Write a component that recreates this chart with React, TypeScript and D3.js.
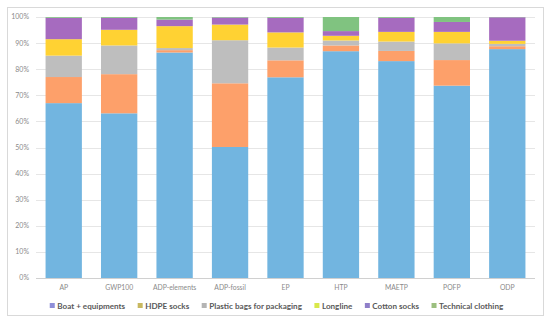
import React, { useEffect, useRef } from 'react';
import * as d3 from 'd3';

// impact categories
const categories = ['AP', 'GWP100', 'ADP-elements', 'ADP-fossil', 'EP', 'HTP', 'MAETP', 'POFP', 'ODP'];

// share of each contributor (%) per category
const boat = [67.0, 63.1, 86.4, 50.2, 76.9, 86.9, 83.1, 73.7, 87.7];
const hdpeSocks = [10.0, 15.0, 0.9, 24.4, 6.5, 2.2, 3.9, 9.8, 1.1];
const plasticBags = [8.2, 11.0, 0.8, 16.5, 4.9, 1.9, 3.6, 6.4, 0.9];
const longline = [6.3, 6.0, 8.4, 6.0, 5.8, 1.8, 3.7, 4.4, 1.2];
const cottonSocks = [8.2, 4.6, 2.5, 2.7, 5.6, 1.8, 5.4, 3.8, 9.0];
const technicalClothing = [0.3, 0.3, 1.0, 0.2, 0.3, 5.4, 0.3, 1.9, 0.1];

const seriesNames = ['Boat + equipments', 'HDPE socks', 'Plastic bags for packaging', 'Longline', 'Cotton socks', 'Technical clothing'];
const seriesValues = [boat, hdpeSocks, plasticBags, longline, cottonSocks, technicalClothing];

const yTicks = [0, 10, 20, 30, 40, 50, 60, 70, 80, 90, 100];

const barColors = ['#72b5e0', '#fda06a', '#bebebe', '#ffd233', '#a66bbf', '#80c380'];
const legendColors = ['#8e8ed9', '#c8b860', '#b4b4b4', '#d9e84a', '#8f7fc9', '#9cbf7f'];

export default function App() {
  const ref = useRef<SVGSVGElement>(null);

  useEffect(() => {
    const width = 550;
    const height = 326;
    const margin = { top: 17, right: 15, bottom: 48, left: 36 };

    const svg = d3.select(ref.current);
    svg.selectAll('*').remove();
    svg.attr('width', width).attr('height', height);

    // chart frame
    svg.append('rect')
      .attr('x', 7.5).attr('y', 7.5)
      .attr('width', 536).attr('height', 308)
      .attr('fill', '#fff')
      .attr('stroke', '#d9d9d9');

    const x = d3.scaleBand()
      .domain(categories)
      .range([margin.left, width - margin.right])
      .paddingInner(0.345)
      .paddingOuter(0.1725);

    const y = d3.scaleLinear()
      .domain([0, 100])
      .range([height - margin.bottom, margin.top]);

    // grid
    svg.append('g')
      .selectAll('line')
      .data(yTicks)
      .join('line')
      .attr('x1', margin.left)
      .attr('x2', width - margin.right)
      .attr('y1', d => Math.round(y(d)) + 0.5)
      .attr('y2', d => Math.round(y(d)) + 0.5)
      .attr('stroke', d => d === 0 ? '#d0d0d0' : '#e6e6e6')
      .attr('stroke-width', 1);

    svg.append('g')
      .selectAll('text')
      .data(yTicks)
      .join('text')
      .attr('x', 29)
      .attr('y', d => y(d))
      .attr('dy', '0.35em')
      .attr('text-anchor', 'end')
      .attr('font-family', 'Lato, sans-serif')
      .attr('font-size', 7)
      .attr('fill', '#8a8a8a')
      .text(d => d + '%');

    // stacked bars
    const rows = categories.map((c, i) => {
      const row: any = { cat: c };
      seriesNames.forEach((s, j) => { row[s] = seriesValues[j][i]; });
      return row;
    });
    const stacked = d3.stack().keys(seriesNames)(rows);

    svg.append('g')
      .selectAll('g')
      .data(stacked)
      .join('g')
      .attr('fill', (d, i) => barColors[i])
      .selectAll('rect')
      .data(d => d)
      .join('rect')
      .attr('x', d => x(d.data.cat))
      .attr('width', x.bandwidth())
      .attr('y', d => y(d[1]))
      .attr('height', d => y(d[0]) - y(d[1]));

    // category labels
    svg.append('g')
      .selectAll('text')
      .data(categories)
      .join('text')
      .attr('x', d => x(d) + x.bandwidth() / 2)
      .attr('y', 290)
      .attr('text-anchor', 'middle')
      .attr('font-family', 'Lato, sans-serif')
      .attr('font-size', 6.8)
      .attr('fill', '#8a8a8a')
      .text(d => d);

    // legend
    const legend = svg.append('g');
    const items = legend.selectAll('g')
      .data(seriesNames)
      .join('g');
    items.append('rect')
      .attr('y', 303)
      .attr('width', 5)
      .attr('height', 5)
      .attr('fill', (d, i) => legendColors[i]);
    items.append('text')
      .attr('x', 7.5)
      .attr('y', 309)
      .attr('font-family', 'Lato, sans-serif')
      .attr('font-weight', 'bold')
      .attr('font-size', 8.1)
      .attr('fill', '#595959')
      .text(d => d);

    const widths: number[] = [];
    items.select('text').each(function () {
      widths.push((this as SVGTextElement).getComputedTextLength() + 7.5);
    });
    const gap = 12.5;
    const total = d3.sum(widths) + gap * (widths.length - 1);
    let cx = 276.5 - total / 2;
    items.attr('transform', (d, i) => {
      const t = `translate(${cx},0)`;
      cx += widths[i] + gap;
      return t;
    });
  }, []);

  return (
    <div style={{ position: 'absolute', left: 0, top: 0 }}>
      <svg ref={ref}></svg>
    </div>
  );
}
